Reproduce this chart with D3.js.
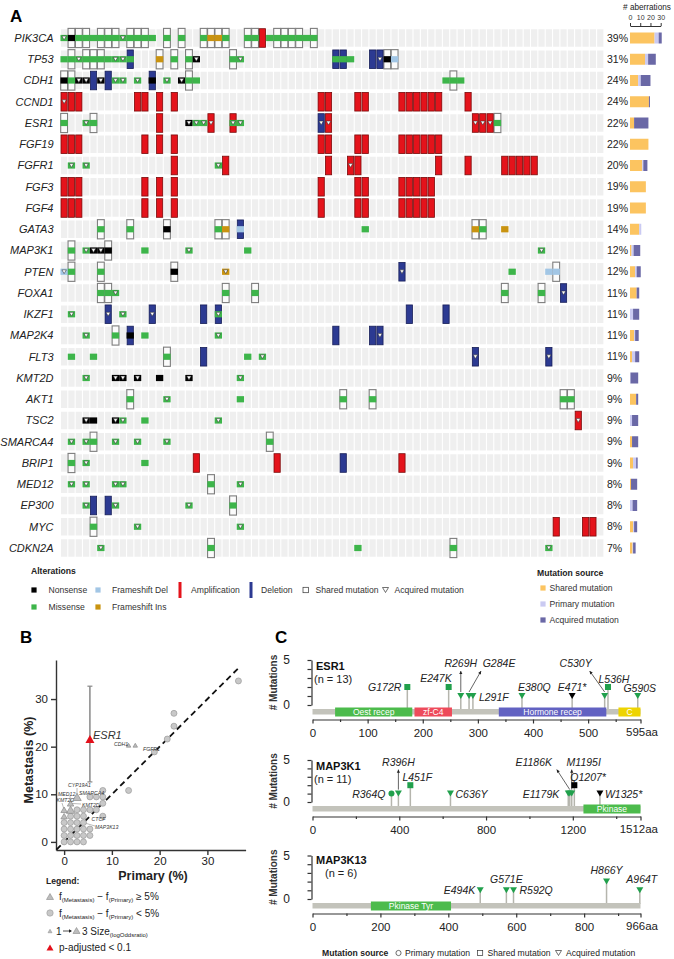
<!DOCTYPE html>
<html><head><meta charset="utf-8">
<script src="https://cdn.jsdelivr.net/npm/d3@7"></script>
<style>
body{margin:0;background:#fff;}
svg{display:block;font-family:"Liberation Sans",Arial,Helvetica,sans-serif;}
</style></head><body>
<svg id="c" width="674" height="959"></svg>
<script>
// ---------------- DATA ----------------
const genes = ["PIK3CA","TP53","CDH1","CCND1","ESR1","FGF19","FGFR1","FGF3","FGF4","GATA3","MAP3K1","PTEN","FOXA1","IKZF1","MAP2K4","FLT3","KMT2D","AKT1","TSC2","SMARCA4","BRIP1","MED12","EP300","MYC","CDKN2A"];
const pctLabels = ["39%","31%","24%","24%","22%","22%","20%","19%","19%","14%","12%","12%","11%","11%","11%","11%","9%","9%","9%","9%","9%","8%","8%","8%","7%"];
const nPatients = 74;
// token: <patient index><alteration letters><source>  A=amplification L=deletion M=missense N=nonsense D=frameshift del I=frameshift ins ; s=shared a=acquired
const geneCells = [
"0Ma 1Ns 2Ms 3Ms 4M 5Ms 6Ms 7Ms 8Ma 9Ms 10Ms 11Ms 12M 14Ms 16Ms 19Ms 20Is 21Is 22Ms 25Ms 26Ms 27A 28M 29Ms 30Ms 31Ms 32Ms 33M 34Ms",
"0M 1Ms 2Ma 3Ms 4Ms 5Ms 6M 7Ma 8Ma 9LM 13Is 15Ms 17Ms 18Na 23Ms 24Ma 37LM 38LM 39M 42L 43La 44Ns 45Ds",
"0Ns 1Ms 2Na 3Na 4L 5Na 6L 7Ma 8Ma 10Ma 12LN 14Ma 16Na 17Ms 18M 52M 53Ms 54M",
"0Aa 1A 2A 10A 11A 13A 15A 35A 36A 40A 41A 46A 47A 48A 49A 50A 51A 55A",
"0Ms 3Ma 4Ms 13A 17Na 18Ma 19Ma 20Aa 23AMa 24Ma 35La 36Aa 56Aa 57Aa 58Aa 59Ms",
"0A 1A 2A 11A 13A 15A 35A 36A 40A 41A 46A 47A 48A 49A 50A 51A",
"1Ma 3Ma 15A 21Ma 22A 36A 39Aa 40A 51A 55A 60A 61A 62A 63A 64A",
"0A 1A 2A 11A 13A 15A 35A 40A 41A 46A 47A 48A 49A 50A",
"0A 1A 2A 11A 13A 15A 35A 40A 41A 46A 47A 48A 49A 50A",
"5Ms 9Ms 14Ns 21Ms 22Is 24LD 41M 56Is 57Ms 60I",
"1Ms 3Ma 4Na 5Na 6Ns 11M 17Ma 25M 65Ma",
"0Da 1Ms 5Ms 15Ns 22Ia 46La 61M 66D 67Ds",
"5Ms 6Ms 7Ma 22Ms 26Ms 60Ms 65Ms 68La",
"1Ma 6La 8Ma 12La 19L 21LMa 47L 52L",
"3Ma 7Ms 9LN 11M 21Ma 37L 42L 43La",
"1M 4M 14Ms 19L 25M 27Ma 56La 66La",
"3Ma 7Na 8Na 10Na 13N 17Na 24Ma",
"9Ms 14Ma 24M 38Ms 42Ms 68Ms 69Ms",
"3Na 4N 7Na 8Ma 11M 21Ma 70Aa",
"1Ma 3Ma 4Ms 7Ma 10Ma 14Ma 28Ms",
"1Ms 3Ma 11M 18A 29A 38L 46A",
"1Ma 3Ma 7Ma 8Ma 20Ms 24Ma",
"3Ma 4L 6L 7Ma 17Ma 23Ms",
"4Ms 10Ma 24Ma 67A 71A 72A",
"5Ma 20Ms 40M 53Ms 66Ma"
];
// # aberrations per gene by mutation source
const aberrShared   = [24,14.7,8,18.5,4,18,12,15.5,15.5,9,1.5,5,6.5,0,4,2,0,6,0,2,3,1,0,3,2.5];
const aberrPrimary  = [4,3,2.5,0,0,0,1,0,0,2,2,1.5,0,3,1,3,0.5,0,2,0,3,0,2.5,1,0.5];
const aberrAcquired = [3,7.5,9.5,1,14,0,4,0,0,0,6.5,4,2.5,6,3.5,4,7.5,2,6,6,1.5,6,4.5,3,2.5];
const aberrTicks = [0,10,20,30];

// Panel B scatter: primary %, metastasis %, shape (c: diff<5%, t: diff>=5%), size class
const scPrimary = [36.5,23,23,21.6,18.9,13.5,8.1,8.1,8.1, 5.4,6.75,8.1, 2.7,4.05,5.4,6.75, 1.35,2.7,4.05, 0,1.35,2.7,4.05, 0,1.35,2.7,4.05,5.4, 0,1.35,2.7,4.05,5.4, 0,1.35,2.7,4.05, 13.5,14.9,2.7,1.35,1.35,0,0];
const scMeta    = [33.8,27,24.3,21.6,18.9,10.8,10.8,8.1,5.4, 9.45,9.45,9.45, 6.75,6.75,6.75,6.75, 5.4,5.4,5.4, 4.05,4.05,4.05,4.05, 2.7,2.7,2.7,2.7,2.7, 1.35,1.35,1.35,1.35,1.35, 0,0,0,0, 20.3,20.3,9.45,8.1,6.75,6.75,5.4];
const scShape   = "ccccccccccccccccccccccccccccccccccccctttttttt".split("").slice(0,44);
const scSize    = [2,2,2,2,2,2,2,2,2,2,2,2,2,2,2,2,2,2,2,2,2,2,2,2,2,2,2,2,2,2,2,2,2,2,2,2,2, 1,1,3,2,3,2,2];
const esr1Point = {primary:5.4, meta:21.6, lo:12.6, hi:32.7};
const scLabels  = ["CDH1","FGFR1","CYP19A1","MED12","SMARCA4","KMT2C","KMT2D","CTCF","MAP3K13"];
const scAxisTicks = [0,10,20,30];

// Panel C lollipops
const proteins = ["ESR1","MAP3K1","MAP3K13"];
const proteinN = [13,11,6];
const proteinLen = [595,1512,966];
const proteinMajorTicks = [[0,100,200,300,400,500],[0,400,800,1200],[0,200,400,600,800]];
const proteinMinorTicks = [[50,150,250,350,450,550],[200,600,1000,1400],[100,300,500,700,900]];
const esr1Domains = [["Oest recep",41,181],["zf-C4",185,253],["Hormone recep",338,533],["C",555,595]];
const map3k1Domains = [["Pkinase",1249,1512]];
const map3k13Domains = [["Pkinase Tyr",172,408]];
// [label, aa position, # mutations, source, type]
const esr1Muts = [["G172R",172,2,"shared","mis"],["E247K",247,2,"shared","mis"],["R269H",269,1,"acquired","mis"],["G284E",284,1,"acquired","mis"],["L291F",291,1,"acquired","mis"],["E380Q",380,1,"acquired","mis"],["E471*",471,1,"acquired","non"],["C530Y",530,1,"acquired","mis"],["L536H",536,2,"shared","mis"],["G590S",590,1,"acquired","mis"]];
const map3k1Muts = [["R364Q",364,1,"primary","mis"],["R396H",396,1,"acquired","mis"],["L451F",451,2,"shared","mis"],["C636Y",636,1,"acquired","mis"],["E1179K",1179,1,"acquired","mis"],["E1186K",1186,1,"acquired","mis"],["M1195I",1195,1,"acquired","mis"],["Q1207*",1207,2,"shared","non"],["W1325*",1325,1,"acquired","non"]];
const map3k13Muts = [["E494K",494,1,"acquired","mis"],["G571E",571,1,"acquired","mis"],["R592Q",592,1,"acquired","mis"],["H866Y",866,2,"acquired","mis"],["A964T",964,1,"acquired","mis"]];

// ---------------- LAYOUT / STYLE ----------------
const svg = d3.select("#c");
const C = {bg:"#efefef", mis:"#3db54a", non:"#000000", fsd:"#a2c6e5", fsi:"#c99310", amp:"#e4131b", ampS:"#7a0a0a", del:"#2c3a92", delS:"#171e57", box:"#7d7d7d",
  sh:"#fcc460", pr:"#cacaf2", aq:"#6a68a6"};
function tri(cx, cy, w, h, down){ const s = down?1:-1; return `M${cx-w/2},${cy-s*h/2}L${cx+w/2},${cy-s*h/2}L${cx},${cy+s*h/2}Z`; }

// ====== PANEL A ======
svg.append("text").attr("x",10).attr("y",22).attr("font-size",17).attr("font-weight","bold").text("A");
const xA = d3.scaleBand().domain(d3.range(nPatients)).range([61,603.4]).paddingInner(0.15).paddingOuter(0);
const yA = d3.scalePoint().domain(genes).range([38,548]);
const bandH = 17.5, bw = xA.bandwidth(), stp = xA.step();

const gBg = svg.append("g"), gBox = svg.append("g"), gBar = svg.append("g"), gSq = svg.append("g"), gTri = svg.append("g");
genes.forEach((g,gi)=>{
  const cy = yA(g);
  gBg.selectAll(null).data(d3.range(nPatients)).join("rect")
    .attr("x",d=>xA(d)).attr("y",cy-bandH/2).attr("width",bw).attr("height",bandH).attr("fill",C.bg);
  const cells = geneCells[gi].split(/\s+/).map(t=>{const m=t.match(/^(\d+)([A-Z]+)([sa]?)$/); return {col:+m[1], types:m[2], src:m[3]};});
  cells.forEach(c=>{
    const x0 = xA(c.col), xc = x0+bw/2;
    if(c.src==="s") gBox.append("rect").attr("x",x0-0.3).attr("y",cy-9.6).attr("width",bw+0.6).attr("height",19.2)
        .attr("fill","#fbfbfb").attr("stroke",C.box).attr("stroke-width",1.1);
    if(c.types.includes("A")) gBar.append("rect").attr("x",x0).attr("y",cy-9.3).attr("width",bw).attr("height",18.6)
        .attr("fill",C.amp).attr("stroke",C.ampS).attr("stroke-width",0.8);
    if(c.types.includes("L")) gBar.append("rect").attr("x",x0).attr("y",cy-9.3).attr("width",bw).attr("height",18.6)
        .attr("fill",C.del).attr("stroke",C.delS).attr("stroke-width",0.8);
    const mt = c.types.replace(/[AL]/g,"");
    if(mt.length){
      const col = {M:C.mis,N:C.non,D:C.fsd,I:C.fsi}[mt[0]];
      gSq.append("rect").attr("x",x0-(stp-bw)/2).attr("y",cy-3.1).attr("width",stp).attr("height",6.2).attr("fill",col);
    }
    if(c.src==="a") gTri.append("path").attr("d",tri(xc,cy,4.4,3.8,true)).attr("fill","#fff").attr("stroke","#222").attr("stroke-width",0.5);
  });
});
// gene labels
svg.append("g").selectAll("text").data(genes).join("text")
  .attr("x",53.5).attr("y",d=>yA(d)).attr("dy","0.35em").attr("text-anchor","end")
  .attr("font-size",11).attr("font-style","italic").attr("fill","#222").text(d=>d);
// percent labels
svg.append("g").selectAll("text").data(pctLabels).join("text")
  .attr("x",607).attr("y",(d,i)=>yA(genes[i])).attr("dy","0.35em")
  .attr("font-size",10.5).attr("fill","#222").text(d=>d);
// stacked bars
const xAb = d3.scaleLinear().domain([0,30]).range([630,660.7]);
const stackData = genes.map((g,i)=>({gene:g, shared:aberrShared[i], primary:aberrPrimary[i], acquired:aberrAcquired[i]}));
const series = d3.stack().keys(["shared","primary","acquired"])(stackData);
const sCol = {shared:C.sh, primary:C.pr, acquired:C.aq};
svg.append("g").selectAll("g").data(series).join("g").attr("fill",d=>sCol[d.key])
  .selectAll("rect").data(d=>d).join("rect")
  .attr("x",d=>xAb(d[0])).attr("width",d=>xAb(d[1])-xAb(d[0]))
  .attr("y",d=>yA(d.data.gene)-5.5).attr("height",11);
const axTop = svg.append("g").attr("transform","translate(0,26)")
  .call(d3.axisTop(xAb).tickValues(aberrTicks).tickSize(3).tickSizeOuter(0));
axTop.selectAll("text").attr("font-size",7).attr("fill","#333").attr("font-family","Liberation Sans, Arial");
axTop.selectAll("line,path").attr("stroke","#333");
svg.append("text").attr("x",647).attr("y",10).attr("text-anchor","middle").attr("font-size",8.2).attr("fill","#222").text("# aberrations");

// legend A
const lg = svg.append("g").attr("font-size",8.6).attr("fill","#333");
lg.append("text").attr("x",31).attr("y",574).attr("font-weight","bold").attr("fill","#222").text("Alterations");
const r1 = 590, r2 = 607;
const sq = (x,y,c)=>lg.append("rect").attr("x",x-2.6).attr("y",y-2.6).attr("width",5.2).attr("height",5.2).attr("fill",c);
const lt = (x,y,t)=>lg.append("text").attr("x",x).attr("y",y).attr("dy","0.35em").text(t);
sq(34,r1,C.non); lt(48.5,r1,"Nonsense");
sq(98,r1,C.fsd); lt(112,r1,"Frameshift Del");
lg.append("rect").attr("x",178.5).attr("y",r1-8).attr("width",3).attr("height",16).attr("fill",C.amp); lt(191,r1,"Amplification");
lg.append("rect").attr("x",249.5).attr("y",r1-8).attr("width",3).attr("height",16).attr("fill",C.del); lt(261,r1,"Deletion");
lg.append("rect").attr("x",303).attr("y",r1-2.7).attr("width",5.4).attr("height",5.4).attr("fill","none").attr("stroke","#333").attr("stroke-width",0.7); lt(315.5,r1,"Shared mutation");
lg.append("path").attr("d",tri(385.5,r1,6,5,true)).attr("fill","none").attr("stroke","#333").attr("stroke-width",0.7); lt(394.5,r1,"Acquired mutation");
sq(34,r2,C.mis); lt(48.5,r2,"Missense");
sq(98,r2,C.fsi); lt(112,r2,"Frameshift Ins");
lg.append("text").attr("x",537).attr("y",576).attr("font-weight","bold").attr("fill","#222").text("Mutation source");
[["Shared mutation",C.sh],["Primary mutation",C.pr],["Acquired mutation",C.aq]].forEach((d,i)=>{
  const y = 588 + i*16;
  sq(543,y,d[1]); lt(549.5,y,d[0]);
});

// ====== PANEL B ======
svg.append("text").attr("x",20).attr("y",643).attr("font-size",17).attr("font-weight","bold").text("B");
const xB = d3.scaleLinear().domain([-1.7,38]).range([56,245.6]);
const yB = d3.scaleLinear().domain([-1.7,38.2]).range([850,660]);
const axL = svg.append("g").attr("transform","translate(56,0)").call(d3.axisLeft(yB).tickValues(scAxisTicks).tickSize(5).tickSizeOuter(0).tickPadding(3));
const axB = svg.append("g").attr("transform","translate(0,850)").call(d3.axisBottom(xB).tickValues(scAxisTicks).tickSize(5).tickSizeOuter(0).tickPadding(1.5));
[axL,axB].forEach(a=>{ a.selectAll("path,line").attr("stroke","#333").attr("stroke-width",1.4);
  a.selectAll("text").attr("font-size",11.5).attr("fill","#222").attr("font-family","Liberation Sans, Arial"); });
svg.append("text").attr("x",153).attr("y",880).attr("text-anchor","middle").attr("font-size",12.5).attr("font-weight","bold").attr("fill","#222").text("Primary (%)");
svg.append("text").attr("transform","translate(33,760) rotate(-90)").attr("text-anchor","middle").attr("font-size",12.5).attr("font-weight","bold").attr("fill","#222").text("Metastasis (%)");
// identity dashed line
svg.append("line").attr("x1",xB(-1.6)).attr("y1",yB(-1.6)).attr("x2",xB(36.7)).attr("y2",yB(36.7))
  .attr("stroke","#111").attr("stroke-width",1.8).attr("stroke-dasharray","6,4");
// leader lines
const gLead = svg.append("g").attr("stroke","#777").attr("stroke-width",0.5);
[[xB(13.5),yB(20.3),xB(13.5)-2,yB(20.3)-1],[xB(1.35),yB(8.1),81,804],[xB(4.05),yB(4.05),95,826],[xB(8.1),yB(5.4),100,819],[xB(2.7),yB(9.45),77,788],[xB(0),yB(6.75),62,803],[xB(1.35),yB(8.1),70,796]]
  .forEach(d=>gLead.append("line").attr("x1",d[0]).attr("y1",d[1]).attr("x2",d[2]).attr("y2",d[3]));
// points
const pts = scPrimary.map((p,i)=>({p, m:scMeta[i], shape:scShape[i], size:scSize[i]}));
svg.append("g").selectAll("circle").data(pts.filter(d=>d.shape==="c")).join("circle")
  .attr("cx",d=>xB(d.p)).attr("cy",d=>yB(d.m)).attr("r",3).attr("fill","#c8c8c8").attr("stroke","#9a9a9a").attr("stroke-width",0.7);
const triW = {1:4.5,2:6.5,3:8.5};
svg.append("g").selectAll("path").data(pts.filter(d=>d.shape==="t")).join("path")
  .attr("d",d=>tri(xB(d.p),yB(d.m),triW[d.size],triW[d.size]*0.85,false)).attr("fill","#bdbdbd").attr("stroke","#8a8a8a").attr("stroke-width",0.7);
// ESR1 error bar + point
const eX = xB(esr1Point.primary);
svg.append("line").attr("x1",eX).attr("x2",eX).attr("y1",yB(esr1Point.lo)).attr("y2",yB(esr1Point.hi)).attr("stroke","#888").attr("stroke-width",1.5);
[esr1Point.lo,esr1Point.hi].forEach(v=>svg.append("line").attr("x1",eX-2.5).attr("x2",eX+2.5).attr("y1",yB(v)).attr("y2",yB(v)).attr("stroke","#888").attr("stroke-width",1.2));
svg.append("path").attr("d",tri(eX,yB(esr1Point.meta),9,8,false)).attr("fill","#e3101b");
svg.append("text").attr("x",93).attr("y",739).attr("font-size",11).attr("font-style","italic").attr("fill","#333").text("ESR1");
const scLabelPos = [[114,746],[143,751],[68,787],[58,796],[79,794.5],[56.5,802],[82,807],[91.5,821],[95,828.5]];
svg.append("g").selectAll("text").data(scLabels).join("text")
  .attr("x",(d,i)=>scLabelPos[i][0]).attr("y",(d,i)=>scLabelPos[i][1]).attr("font-size",5.2).attr("font-style","italic").attr("fill","#333").text(d=>d);
// legend B
const lb = svg.append("g").attr("fill","#222");
lb.append("text").attr("x",46).attr("y",884).attr("font-size",8.6).attr("font-weight","bold").text("Legend:");
function fText(y, tail){
  const t = lb.append("text").attr("x",59).attr("y",y).attr("font-size",10);
  t.append("tspan").text("f");
  t.append("tspan").attr("font-size",6).attr("dy",2).text("(Metastasis)");
  t.append("tspan").attr("dy",-2).text(" \u2212 f");
  t.append("tspan").attr("font-size",6).attr("dy",2).text("(Primary)");
  t.append("tspan").attr("dy",-2).text(tail);
}
lb.append("path").attr("d",tri(50,896.5,7,6,false)).attr("fill","#bdbdbd").attr("stroke","#8a8a8a").attr("stroke-width",0.6);
fText(900," \u2265 5%");
lb.append("circle").attr("cx",50).attr("cy",913).attr("r",3.2).attr("fill","#c8c8c8").attr("stroke","#9a9a9a").attr("stroke-width",0.6);
fText(916.5," < 5%");
lb.append("path").attr("d",tri(50,931,4,3.5,false)).attr("fill","#bdbdbd").attr("stroke","#8a8a8a").attr("stroke-width",0.5);
lb.append("text").attr("x",56).attr("y",934.5).attr("font-size",10).text("1");
lb.append("line").attr("x1",63).attr("x2",71).attr("y1",931).attr("y2",931).attr("stroke","#222").attr("stroke-width",0.8);
lb.append("path").attr("d","M72,931L69,929.3L69,932.7Z").attr("fill","#222");
lb.append("path").attr("d",tri(76.5,930.5,7,6,false)).attr("fill","#bdbdbd").attr("stroke","#8a8a8a").attr("stroke-width",0.6);
const t3 = lb.append("text").attr("x",82).attr("y",934.5).attr("font-size",10);
t3.append("tspan").text("3  Size"); t3.append("tspan").attr("font-size",6).attr("dy",2).text("(logOddsratio)");
lb.append("path").attr("d",tri(50,947.5,7,6,false)).attr("fill","#e3101b");
lb.append("text").attr("x",59).attr("y",951).attr("font-size",10).text("p-adjusted < 0.1");

// ====== PANEL C ======
svg.append("text").attr("x",275).attr("y",643).attr("font-size",17).attr("font-weight","bold").text("C");
const panelY0 = [705,802,899];
const panelUnit = [9,8.4,8.7];
const panelTitleY = [670,770,864];
const domainSets = [esr1Domains, map3k1Domains, map3k13Domains];
const mutSets = [esr1Muts, map3k1Muts, map3k13Muts];
const domColor = {"Oest recep":"#4cbb4c","zf-C4":"#ee4b5b","Hormone recep":"#6262c2","C":"#eed400","Pkinase":"#4cbb4c","Pkinase Tyr":"#4cbb4c"};
// label placement per mutation: [anchor, dx, dy(baseline rel. marker), arrowToX, arrowToY]
const labelPlace = [
 [["end",-6,4],["end",3,-5],["middle",0,-29,0,-25],["middle",30,-29,12,-25],["start",6,5],["start",-4,-5],["middle",0,-5],["middle",-29,-29,-15,-25],["middle",6,-4.5],["middle",2,-4]],
 [["end",-6,4],["middle",0,-28,0,-24],["middle",7,-4.5],["start",5,4],["end",-9,4],["middle",-36,-28,-13,-24],["middle",12,-28,0,-24],["start",-4,-4.5],["start",5,4]],
 [["end",-5,4],["middle",0,-7],["start",6,4],["middle",0,-8],["middle",2,-7]]
];
const srcShape = {primary:"circle", shared:"square", acquired:"triangle"};
proteins.forEach((p,pi)=>{
  const y0 = panelY0[pi], u = panelUnit[pi];
  const xs = d3.scaleLinear().domain([0,proteinLen[pi]]).range([312.5,640.5]);
  const ys = d3.scaleLinear().domain([0,5]).range([y0, y0-5*u]);
  const g = svg.append("g");
  // y axis bracket
  const ay = g.append("g").attr("transform","translate(311.5,0)").call(d3.axisLeft(ys).ticks(5).tickSize(4).tickSizeOuter(0).tickFormat(""));
  ay.selectAll("path,line").attr("stroke","#333").attr("stroke-width",1.2);
  g.selectAll(null).data([0,5]).join("text").attr("x",290).attr("y",d=>ys(d)).attr("dy","0.35em").attr("text-anchor","end")
    .attr("font-size",12).attr("fill","#222").text(d=>d);
  g.append("text").attr("transform",`translate(277,${y0-2.5*u}) rotate(-90)`).attr("text-anchor","middle")
    .attr("font-size",10).attr("font-weight","bold").attr("fill","#333").text("# Mutations");
  // titles
  g.append("text").attr("x",316).attr("y",panelTitleY[pi]).attr("font-size",11).attr("font-weight","bold").attr("fill","#111").text(p);
  g.append("text").attr("x",pi===2?325:314).attr("y",panelTitleY[pi]+13).attr("font-size",11).attr("fill","#222").text(`(n = ${proteinN[pi]})`);
  // x axis
  const ax = g.append("g").attr("transform",`translate(0,${y0+14.5})`)
    .call(d3.axisBottom(xs).tickValues(proteinMajorTicks[pi].concat([proteinLen[pi]])).tickSize(4).tickSizeOuter(0).tickPadding(5)
      .tickFormat(d=>d===proteinLen[pi]?"":d));
  const axm = g.append("g").attr("transform",`translate(0,${y0+14.5})`)
    .call(d3.axisBottom(xs).tickValues(proteinMinorTicks[pi]).tickSize(2.5).tickFormat(""));
  axm.select(".domain").remove();
  [ax,axm].forEach(a=>a.selectAll("path,line").attr("stroke","#333").attr("stroke-width",1.2));
  ax.selectAll("text").attr("font-size",11.5).attr("fill","#222").attr("font-family","Liberation Sans, Arial");
  g.append("text").attr("x",658).attr("y",y0+14.5+16.5).attr("text-anchor","end").attr("font-size",11.5).attr("fill","#222").text(proteinLen[pi]+"aa");
  // stems
  const muts = mutSets[pi].map(d=>({label:d[0], pos:d[1], n:d[2], src:d[3], type:d[4]}));
  g.selectAll(null).data(muts).join("line").attr("x1",d=>xs(d.pos)).attr("x2",d=>xs(d.pos))
    .attr("y1",y0+5).attr("y2",d=>ys(d.n)).attr("stroke","#b5b5ad").attr("stroke-width",1.5);
  // backbone & domains
  g.append("rect").attr("x",xs(0)).attr("y",y0+4).attr("width",xs(proteinLen[pi])-xs(0)).attr("height",5.5).attr("fill","#c3c3bb");
  domainSets[pi].forEach(d=>{
    g.append("rect").attr("x",xs(d[1])).attr("y",y0+2.5).attr("width",xs(d[2])-xs(d[1])).attr("height",9).attr("fill",domColor[d[0]]);
    g.append("text").attr("x",(xs(d[1])+xs(d[2]))/2).attr("y",y0+7).attr("dy","0.35em").attr("text-anchor","middle")
      .attr("font-size",8.5).attr("fill","#fff").text(d[0]);
  });
  // markers
  muts.forEach((d,i)=>{
    const mx = xs(d.pos), my = ys(d.n), col = d.type==="non"?"#000":"#21a04c";
    const sh = srcShape[d.src];
    if(sh==="circle") g.append("circle").attr("cx",mx).attr("cy",my).attr("r",3).attr("fill",col);
    else if(sh==="square") g.append("rect").attr("x",mx-3).attr("y",my-3).attr("width",6).attr("height",6).attr("fill",col);
    else g.append("path").attr("d",tri(mx,my,7,6,true)).attr("fill",col);
    const lp = labelPlace[pi][i];
    g.append("text").attr("x",mx+lp[1]).attr("y",my+lp[2]).attr("text-anchor",lp[0])
      .attr("font-size",10.5).attr("font-style","italic").attr("fill","#222").text(d.label);
    if(lp.length>3){
      const x2 = mx+lp[3], y2 = my+lp[4], x1 = mx, y1 = my-4;
      const ang = Math.atan2(y2-y1,x2-x1);
      g.append("line").attr("x1",x1).attr("y1",y1).attr("x2",x2).attr("y2",y2).attr("stroke","#222").attr("stroke-width",0.7);
      const a1 = ang+Math.PI*0.85, a2 = ang-Math.PI*0.85, L=3.5;
      g.append("path").attr("d",`M${x2},${y2}L${x2+L*Math.cos(a1)},${y2+L*Math.sin(a1)}L${x2+L*Math.cos(a2)},${y2+L*Math.sin(a2)}Z`).attr("fill","#222");
    }
  });
});
// legend C
const lc = svg.append("g").attr("font-size",8.6).attr("fill","#222");
lc.append("text").attr("x",322).attr("y",956).attr("font-weight","bold").text("Mutation source");
lc.append("circle").attr("cx",398.5).attr("cy",953).attr("r",2.6).attr("fill","none").attr("stroke","#333").attr("stroke-width",0.7);
lc.append("text").attr("x",405).attr("y",956).text("Primary mutation");
lc.append("rect").attr("x",477.5).attr("y",950.4).attr("width",5.2).attr("height",5.2).attr("fill","none").attr("stroke","#333").attr("stroke-width",0.7);
lc.append("text").attr("x",487.5).attr("y",956).text("Shared mutation");
lc.append("path").attr("d",tri(558.5,953,6,5,true)).attr("fill","none").attr("stroke","#333").attr("stroke-width",0.7);
lc.append("text").attr("x",566).attr("y",956).text("Acquired mutation");
</script>
</body></html>
